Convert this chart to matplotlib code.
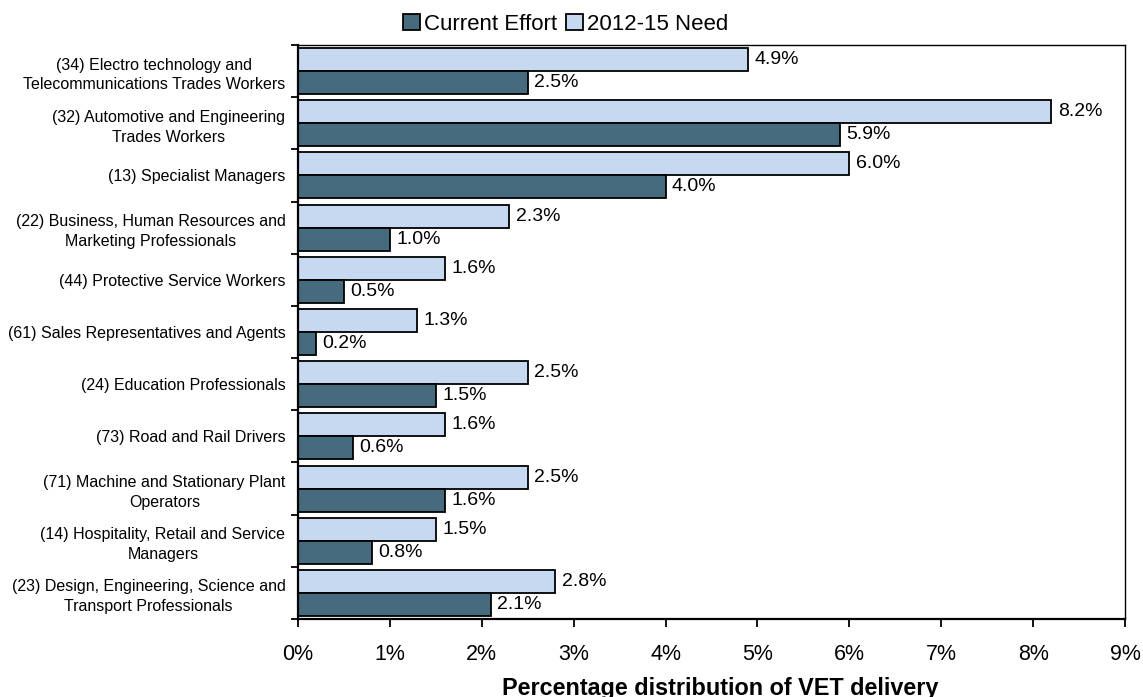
import matplotlib
matplotlib.use("Agg")
import matplotlib.pyplot as plt
import numpy as np

plt.rcParams['font.family'] = ['Liberation Sans', 'DejaVu Sans']

categories = [
    "(34) Electro technology and\nTelecommunications Trades Workers",
    "(32) Automotive and Engineering\nTrades Workers",
    "(13) Specialist Managers",
    "(22) Business, Human Resources and\nMarketing Professionals",
    "(44) Protective Service Workers",
    "(61) Sales Representatives and Agents",
    "(24) Education Professionals",
    "(73) Road and Rail Drivers",
    "(71) Machine and Stationary Plant\nOperators",
    "(14) Hospitality, Retail and Service\nManagers",
    "(23) Design, Engineering, Science and\nTransport Professionals",
]
current_effort = [2.5, 5.9, 4.0, 1.0, 0.5, 0.2, 1.5, 0.6, 1.6, 0.8, 2.1]
need_2012_15 = [4.9, 8.2, 6.0, 2.3, 1.6, 1.3, 2.5, 1.6, 2.5, 1.5, 2.8]
x_ticks = [0, 1, 2, 3, 4, 5, 6, 7, 8, 9]

dark = "#466A7E"
light = "#C6D9F0"

W, H = 1143, 697
fig = plt.figure(figsize=(W / 100, H / 100), dpi=100)
ax = fig.add_axes([298 / W, 1 - 619 / H, (1125 - 298) / W, (619 - 45) / H])

y = np.arange(len(categories))
h = 0.44
b_need = ax.barh(y - h / 2, need_2012_15, height=h, color=light, edgecolor="black",
                 linewidth=1.3, label="2012-15 Need")
b_cur = ax.barh(y + h / 2, current_effort, height=h, color=dark, edgecolor="black",
                linewidth=1.3, label="Current Effort")

for bars, vals in ((b_need, need_2012_15), (b_cur, current_effort)):
    for bar, v in zip(bars, vals):
        ax.annotate(f"{v:.1f}%", (v, bar.get_y() + bar.get_height() / 2),
                    xytext=(4.5, 0), textcoords="offset points",
                    ha="left", va="center", fontsize=14)

ax.set_xlim(0, 9)
ax.set_ylim(len(categories) - 0.5, -0.5)
ax.set_xticks(x_ticks)
ax.set_xticklabels([f"{t}%" for t in x_ticks], fontsize=15.5)
ax.tick_params(axis="x", length=6, width=1.3, pad=12)

# category boundaries carry the y ticks; names sit at the group centres
ax.set_yticks(np.arange(len(categories) + 1) - 0.5)
ax.set_yticklabels([])
ax.tick_params(axis="y", which="major", length=5, width=1.3)
ax.set_yticks(y, minor=True)
ax.set_yticklabels(categories, minor=True, fontsize=11.5, multialignment="center",
                   linespacing=1.4)
ax.tick_params(axis="y", which="minor", length=0, pad=9)

for side in ("left", "bottom"):
    ax.spines[side].set_linewidth(1.6)
for side in ("top", "right"):
    ax.spines[side].set_linewidth(1.0)

# axis title sits on the bottom edge of the figure
fig.text(720 / W, 1.5 / H, "Percentage distribution of VET delivery",
         ha="center", va="baseline", fontsize=16.8, fontweight="bold")

handles = [b_cur, b_need]
fig.legend(handles, ["Current Effort", "2012-15 Need"], loc="center",
           bbox_to_anchor=(566 / W, 1 - 24 / H), ncol=2, frameon=False,
           fontsize=16, handlelength=0.75, handleheight=0.75, handletextpad=0.2,
           columnspacing=0.4)

fig.savefig("out.png", dpi=100)
